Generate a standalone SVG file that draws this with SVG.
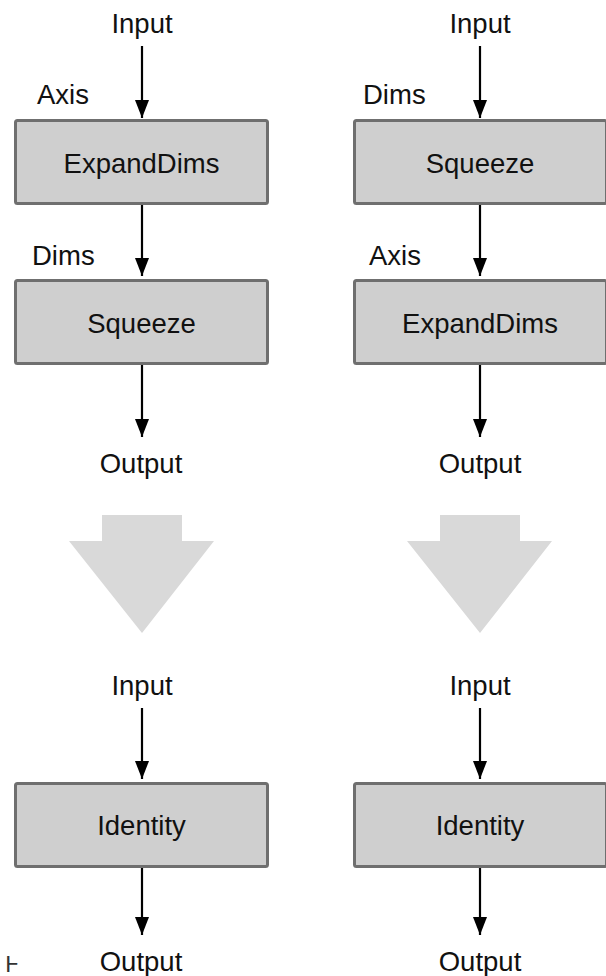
<svg xmlns="http://www.w3.org/2000/svg" width="606" height="976" viewBox="0 0 606 976">
  <defs>
    <style>
      .lbl { font-family: "Liberation Sans", Arial, sans-serif; font-size: 27.5px; fill: #111111; }
      .mid { text-anchor: middle; }
      .box { fill: #cfcfcf; stroke: #6f6f6f; stroke-width: 3; }
      .edge { stroke: #000000; stroke-width: 2.2; fill: none; marker-end: url(#head); }
      .big { fill: #d9d9d9; }
      .frag { font-family: "DejaVu Sans", sans-serif; font-size: 22px; fill: #333333; }
    </style>
    <marker id="head" viewBox="0 0 18 14" refX="18" refY="7" markerWidth="18" markerHeight="14" markerUnits="userSpaceOnUse" orient="auto">
      <path d="M0,0 L18,7 L0,14 Z" fill="#000000"/>
    </marker>
  </defs>

  <rect width="606" height="976" fill="#ffffff"/>

  <!-- connectors -->
  <g id="connectors">
    <line class="edge" x1="142" y1="46" x2="142" y2="118"/>
    <line class="edge" x1="142" y1="205" x2="142" y2="276"/>
    <line class="edge" x1="142" y1="365" x2="142" y2="437"/>
    <line class="edge" x1="480" y1="46" x2="480" y2="118"/>
    <line class="edge" x1="480" y1="205" x2="480" y2="276"/>
    <line class="edge" x1="480" y1="365" x2="480" y2="437"/>
    <line class="edge" x1="142" y1="708" x2="142" y2="779"/>
    <line class="edge" x1="142" y1="868" x2="142" y2="935"/>
    <line class="edge" x1="480" y1="708" x2="480" y2="779"/>
    <line class="edge" x1="480" y1="868" x2="480" y2="935"/>
  </g>

  <!-- left graph: ExpandDims then Squeeze -->
  <g id="left-input"><text class="lbl mid" x="142" y="33">Input</text></g>
  <g id="left-expanddims">
    <text class="lbl" x="37" y="104">Axis</text>
    <rect class="box" x="15.5" y="120.5" width="252" height="83" rx="2"/>
    <text class="lbl mid" x="141.5" y="173">ExpandDims</text>
  </g>
  <g id="left-squeeze">
    <text class="lbl" x="32" y="265">Dims</text>
    <rect class="box" x="15.5" y="280.5" width="252" height="83" rx="2"/>
    <text class="lbl mid" x="141.5" y="333">Squeeze</text>
  </g>
  <g id="left-output"><text class="lbl mid" x="141" y="473">Output</text></g>

  <!-- right graph: Squeeze then ExpandDims -->
  <g id="right-input"><text class="lbl mid" x="480" y="33">Input</text></g>
  <g id="right-squeeze">
    <text class="lbl" x="363" y="104">Dims</text>
    <rect class="box" x="354.5" y="120.5" width="252" height="83" rx="2"/>
    <text class="lbl mid" x="480" y="173">Squeeze</text>
  </g>
  <g id="right-expanddims">
    <text class="lbl" x="369" y="265">Axis</text>
    <rect class="box" x="354.5" y="280.5" width="252" height="83" rx="2"/>
    <text class="lbl mid" x="480" y="333">ExpandDims</text>
  </g>
  <g id="right-output"><text class="lbl mid" x="480" y="473">Output</text></g>

  <!-- rewrite arrows -->
  <g id="rewrite-left">
    <path class="big" d="M102,515 H182 V541 H214 L142,633 L69,541 H102 Z"/>
  </g>
  <g id="rewrite-right">
    <path class="big" d="M440,515 H520 V541 H552 L480,633 L407,541 H440 Z"/>
  </g>

  <!-- simplified graphs -->
  <g id="left-result-input"><text class="lbl mid" x="142" y="695">Input</text></g>
  <g id="left-identity">
    <rect class="box" x="15.5" y="783.5" width="252" height="83" rx="2"/>
    <text class="lbl mid" x="141.5" y="835">Identity</text>
  </g>
  <g id="left-result-output"><text class="lbl mid" x="141" y="971">Output</text></g>

  <g id="right-result-input"><text class="lbl mid" x="480" y="695">Input</text></g>
  <g id="right-identity">
    <rect class="box" x="354.5" y="783.5" width="252" height="83" rx="2"/>
    <text class="lbl mid" x="480" y="835">Identity</text>
  </g>
  <g id="right-result-output"><text class="lbl mid" x="480" y="971">Output</text></g>

  <!-- small mark at the lower left -->
  <g id="edge-mark">
    <text class="frag" x="5" y="972">Ͱ</text>
  </g>
</svg>
